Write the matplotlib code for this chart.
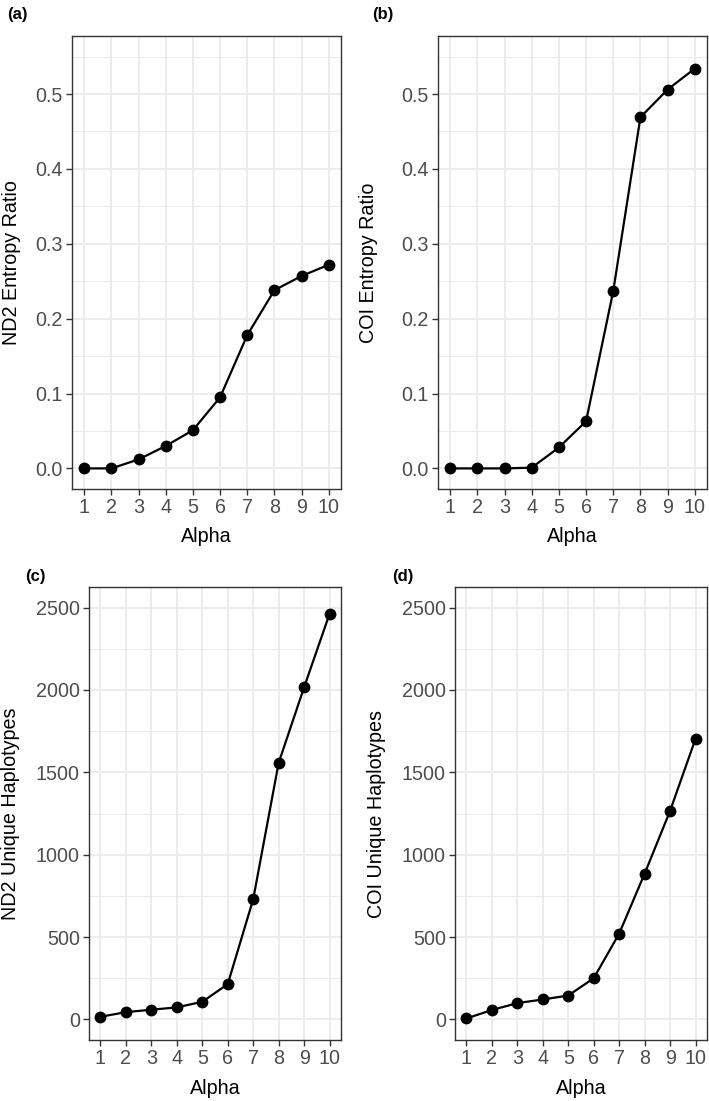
import matplotlib
matplotlib.use("Agg")
import matplotlib.pyplot as plt
from matplotlib.ticker import MultipleLocator, FormatStrFormatter

plt.rcParams['font.family'] = ['Liberation Sans', 'DejaVu Sans']

# %% data
alpha = [1, 2, 3, 4, 5, 6, 7, 8, 9, 10]
nd2_entropy = [0.0, 0.0, 0.012, 0.030, 0.051, 0.095, 0.178, 0.238, 0.257, 0.272]
coi_entropy = [0.0, 0.0, 0.0, 0.001, 0.028, 0.063, 0.237, 0.469, 0.506, 0.534]
nd2_haplo = [16, 44, 59, 73, 107, 214, 729, 1557, 2016, 2462]
coi_haplo = [6, 57, 99, 121, 145, 250, 521, 885, 1266, 1704]

W, H = 709, 1101
grey20 = '#333333'
grey30 = '#4D4D4D'
grey92 = '#EBEBEB'
fs = 14.2


def draw(fig, box, x, y, ylabel, tag, tagpos, ylim, major, fmt, ylab_x):
    # box = (left, right, top, bottom) in pixels
    l, r, t, b = box
    ax = fig.add_axes([l / W, 1 - b / H, (r - l) / W, (b - t) / H])
    ax.plot(x, y, color='black', lw=1.6, marker='o', ms=7.5, zorder=3)

    ax.set_xlim(0.55, 10.45)
    lo, hi = ylim
    pad = (hi - lo) * 0.05
    ax.set_ylim(lo - pad, hi + pad)

    ax.set_xticks(alpha)
    ax.yaxis.set_major_locator(MultipleLocator(major))
    ax.yaxis.set_minor_locator(MultipleLocator(major / 2))
    ax.yaxis.set_major_formatter(FormatStrFormatter(fmt))

    ax.grid(which='major', color=grey92, lw=1.3)
    ax.grid(which='minor', axis='y', color=grey92, lw=0.7)
    ax.set_axisbelow(True)
    for s in ax.spines.values():
        s.set_color(grey20)
        s.set_linewidth(1.0)
    ax.tick_params(which='major', length=4.3, width=1.0, color=grey20,
                   labelcolor=grey30, labelsize=fs, pad=2.2)
    ax.tick_params(which='minor', length=0)

    ax.set_xlabel('Alpha', fontsize=fs)
    ax.set_ylabel(ylabel, fontsize=fs)
    ax.xaxis.set_label_coords(0.5, -48 / (b - t))
    ax.xaxis.label.set_va('center')
    ax.yaxis.set_label_coords((ylab_x - l) / (r - l), 0.5)
    ax.yaxis.label.set_va('center')

    fig.text(tagpos[0] / W, 1 - tagpos[1] / H, tag, fontsize=12,
             fontweight='bold', ha='left', va='center')
    return ax


fig = plt.figure(figsize=(W / 100, H / 100), dpi=100)

draw(fig, (72, 341, 36, 489), alpha, nd2_entropy, 'ND2 Entropy Ratio',
     '(a)', (7, 14), (0, 0.55), 0.1, '%.1f', 12)
draw(fig, (438, 707, 36, 489), alpha, coi_entropy, 'COI Entropy Ratio',
     '(b)', (372, 14), (0, 0.55), 0.1, '%.1f', 369)
draw(fig, (89, 341, 587, 1040), alpha, nd2_haplo, 'ND2 Unique Haplotypes',
     '(c)', (25, 577), (0, 2500), 500, '%d', 11)
draw(fig, (455, 707, 587, 1040), alpha, coi_haplo, 'COI Unique Haplotypes',
     '(d)', (392, 577), (0, 2500), 500, '%d', 377)

fig.savefig('out.png', dpi=100)
